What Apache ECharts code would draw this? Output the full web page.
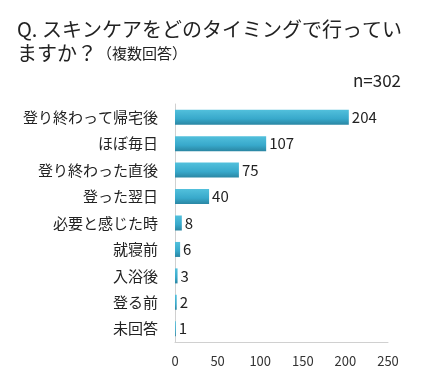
<!DOCTYPE html>
<html><head><meta charset="utf-8">
<script src="https://cdn.jsdelivr.net/npm/echarts@6/dist/echarts.min.js"></script>
<style>html,body{margin:0;padding:0;background:#fff}#c{width:425px;height:381px}</style>
</head><body><div id="c"></div>
<script>
const categories = ['登り終わって帰宅後','ほぼ毎日','登り終わった直後','登った翌日','必要と感じた時','就寝前','入浴後','登る前','未回答'];
const values = [204,107,75,40,8,6,3,2,1];
const xTicks = [0,50,100,150,200,250];
const titleLine1 = 'Q. スキンケアをどのタイミングで行ってい';
const titleLine2 = 'ますか？';
const titleNote = '（複数回答）';
const sampleNote = 'n=302';

const chart = echarts.init(document.getElementById('c'));
const font = '"Noto Sans CJK JP","Noto Sans",sans-serif';
chart.setOption({
  animation:false,
  textStyle:{fontFamily:font},
  title:[{
    left:12, top:12,
    text:'{a|'+titleLine1+'}\n{a|'+titleLine2+'}{b|'+titleNote+'}',
    textStyle:{fontWeight:'normal',rich:{
      a:{fontSize:20,color:'#222',fontFamily:font,lineHeight:24,fontWeight:'normal'},
      b:{fontSize:15,color:'#222',fontFamily:font,lineHeight:24,fontWeight:'normal'}
    }}
  },{
    right:19, top:67, text:sampleNote,
    textStyle:{fontSize:17,fontWeight:'normal',color:'#222',fontFamily:font}
  }],
  grid:{left:175,right:37,top:104,bottom:39,containLabel:false},
  xAxis:{type:'value',min:0,max:250,interval:50,
    axisLine:{show:true,lineStyle:{color:'#d0d0d0'}},
    axisTick:{show:false},splitLine:{show:false},
    axisLabel:{color:'#333',fontSize:13,margin:13,fontFamily:font,
      formatter:v=>xTicks.includes(v)?String(v):''}
  },
  yAxis:{type:'category',data:categories,inverse:true,
    axisLine:{show:true,lineStyle:{color:'#d0d0d0'}},
    axisTick:{show:false},
    axisLabel:{color:'#222',fontSize:15,margin:17,fontFamily:font}
  },
  series:[{type:'bar',data:values,barWidth:15,
    itemStyle:{color:new echarts.graphic.LinearGradient(0,0,0,1,[
      {offset:0,color:'#52c0dc'},{offset:0.6,color:'#38a9cb'},{offset:1,color:'#2a86a3'}])},
    label:{show:true,position:'right',distance:3,color:'#222',fontSize:15,fontFamily:font}
  }]
});
</script></body></html>
